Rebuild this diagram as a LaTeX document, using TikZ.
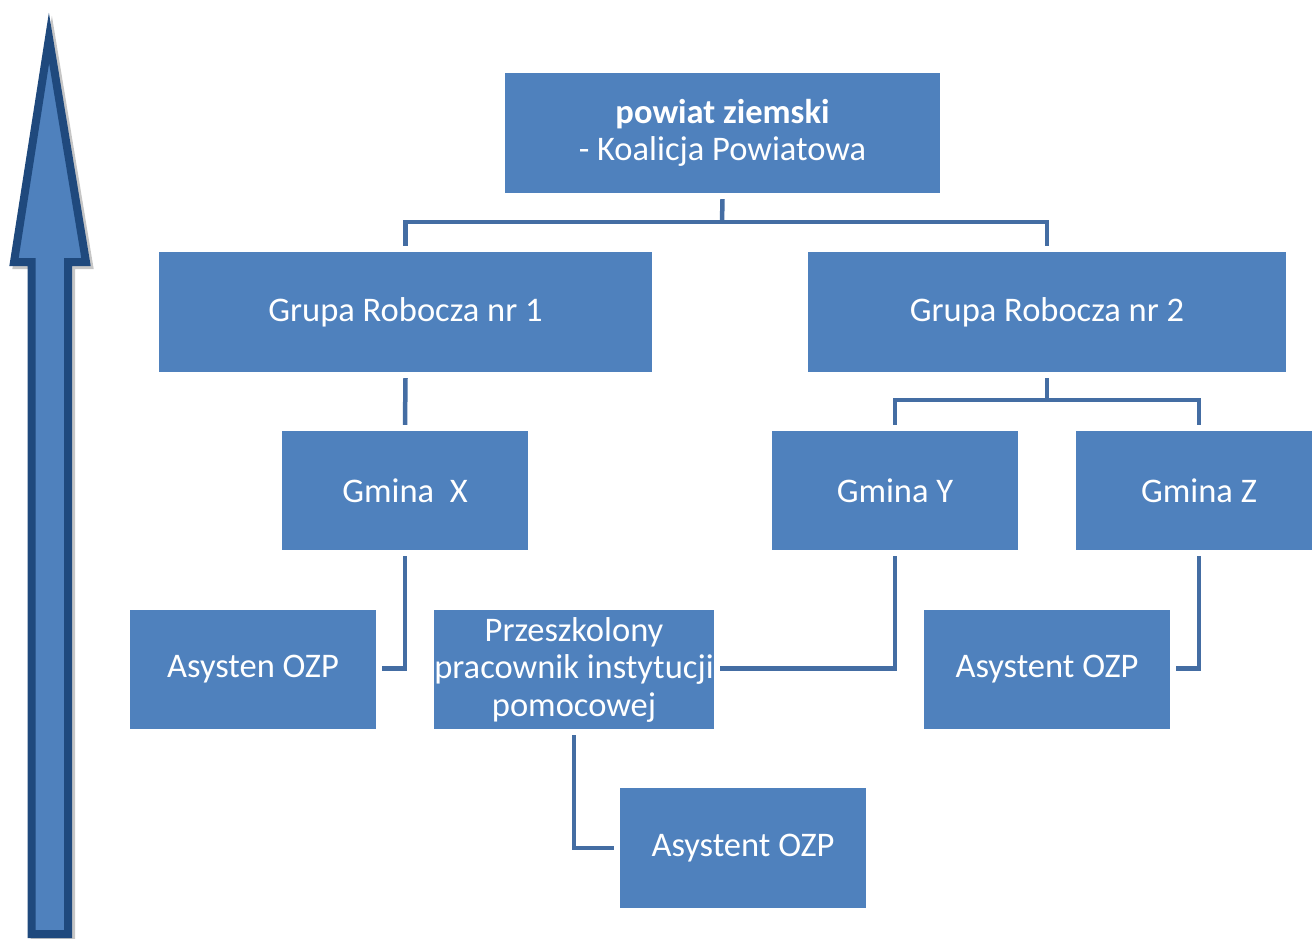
\documentclass[tikz,border=0pt]{standalone}
\usepackage{fontspec}
\setmainfont{Carlito}
\usetikzlibrary{calc}
\definecolor{boxblue}{RGB}{79,129,189}
\definecolor{connblue}{RGB}{68,109,163}
\definecolor{arrowdark}{RGB}{31,73,125}
\tikzset{
  orgbox/.style={rectangle, fill=boxblue, text=white, inner sep=0pt, align=center,
    font=\fontsize{34.5}{37.5}\selectfont},
  conn/.style={draw=connblue, line width=4.5pt},
  arrowshape/.style={line width=8pt, line join=miter, miter limit=10},
}
\begin{document}
\begin{tikzpicture}[x=1pt,y=-1pt]
\useasboundingbox (0,0) rectangle (1312,938);
% arrow with shadow
\begin{scope}[shift={(3,3)}]
\draw[arrowshape, draw=gray!45, fill=gray!45]
  (49,38) -- (14,262) -- (31.5,262) -- (31.5,934) -- (68,934) -- (68,262) -- (86,262) -- cycle;
\end{scope}
\draw[arrowshape, fill=boxblue, draw=arrowdark]
  (49,38) -- (14,262) -- (31.5,262) -- (31.5,934) -- (68,934) -- (68,262) -- (86,262) -- cycle;
% boxes
\node[orgbox, minimum width=435pt, minimum height=120pt] (top) at (722.5,133) {\textbf{powiat ziemski}\\- Koalicja Powiatowa};
\node[orgbox, minimum width=493pt, minimum height=120pt] (gr1) at (405.5,312) {Grupa Robocza nr 1};
\node[orgbox, minimum width=478pt, minimum height=120pt] (gr2) at (1047,312) {Grupa Robocza nr 2};
\node[orgbox, minimum width=246pt, minimum height=119pt] (gx) at (405,490.5) {Gmina\ \ X};
\node[orgbox, minimum width=246pt, minimum height=119pt] (gy) at (895,490.5) {Gmina Y};
\node[orgbox, minimum width=246pt, minimum height=119pt] (gz) at (1199,490.5) {Gmina Z};
\node[orgbox, minimum width=246pt, minimum height=119pt] (a1) at (253,669.5) {Asysten OZP};
\node[orgbox, minimum width=280pt, minimum height=119pt] (pr) at (574,669.5) {Przeszkolony\\pracownik instytucji\\pomocowej};
\node[orgbox, minimum width=246pt, minimum height=119pt] (a2) at (1047,669.5) {Asystent OZP};
\node[orgbox, minimum width=246pt, minimum height=120pt] (a3) at (743,848) {Asystent OZP};
% junctions
\coordinate (j1) at (722,222);
\coordinate (j2) at (1047,400);
% connectors
\draw[conn] ($(top.south)+(0,6)$) -- (j1);
\draw[conn] ($(gr1.north)+(0,-6)$) |- (j1) -| ($(gr2.north)+(0,-6)$);
\draw[conn] ($(gr1.south)+(0,6)$) -- ($(gx.north)+(0,-6)$);
\draw[conn] ($(gr2.south)+(0,6)$) -- (j2);
\draw[conn] ($(gy.north)+(0,-6)$) |- (j2) -| ($(gz.north)+(0,-6)$);
\draw[conn] ($(gx.south)+(0,6)$) |- ($(a1.east)+(6,-1)$);
\draw[conn] ($(gy.south)+(0,6)$) |- ($(pr.east)+(6,-1)$);
\draw[conn] ($(gz.south)+(0,6)$) |- ($(a2.east)+(6,-1)$);
\draw[conn] ($(pr.south)+(0,6)$) |- ($(a3.west)+(-6,0)$);
\end{tikzpicture}
\end{document}
